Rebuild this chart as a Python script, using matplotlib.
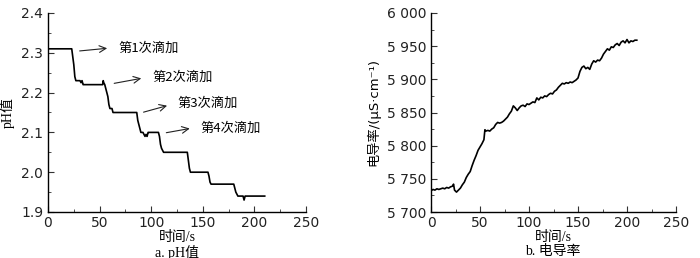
import matplotlib
matplotlib.use('Agg')
import matplotlib.pyplot as plt
from matplotlib.ticker import MultipleLocator, FuncFormatter

plt.rcParams['font.family'] = ['DejaVu Sans', 'Noto Sans CJK SC']
plt.rcParams['axes.linewidth'] = 1.0

# pH curve (time s, pH)
ph_t = [0, 23, 24, 25, 26, 27, 30, 31, 32, 33, 34, 35, 53, 53.5, 54, 55, 56, 57, 58,
        59, 60, 62, 63, 86, 87, 88, 89, 90, 92, 93, 94, 95, 96, 97, 98, 107, 108, 109,
        110, 111, 112, 135, 136, 137, 138, 155, 156, 157, 158, 180, 181, 182, 184,
        189, 190, 191, 210]
ph_v = [2.31, 2.31, 2.29, 2.27, 2.24, 2.23, 2.23, 2.23, 2.225, 2.23, 2.22, 2.22, 2.22,
        2.23, 2.225, 2.22, 2.21, 2.20, 2.19, 2.17, 2.16, 2.16, 2.15, 2.15, 2.13, 2.12,
        2.11, 2.10, 2.10, 2.095, 2.09, 2.095, 2.09, 2.10, 2.10, 2.10, 2.09, 2.07, 2.06,
        2.055, 2.05, 2.05, 2.03, 2.01, 2.00, 2.00, 1.99, 1.975, 1.97, 1.97, 1.96, 1.95,
        1.94, 1.94, 1.93, 1.94, 1.94]

# annotations: label, arrow start (t, pH), arrow end (t, pH)
ann_labels = ['第1次滴加', '第2次滴加', '第3次滴加', '第4次滴加']
ann_start = [(28, 2.304), (61.5, 2.222), (90, 2.149), (112, 2.098)]
ann_end = [(60, 2.312), (93, 2.237), (118, 2.169), (140, 2.111)]
ann_text = [(68, 2.312), (101.5, 2.239), (125, 2.174), (147.5, 2.111)]

# conductivity curve (time s, uS/cm)
ec_t = [0, 2, 4, 6, 8, 10, 12, 14, 16, 18, 20, 22, 23, 24, 26, 28, 30, 32, 34, 36, 38,
        40, 42, 44, 46, 48, 50, 52, 54, 55, 56, 58, 60, 62, 64, 66, 68, 70, 72, 74, 76,
        78, 80, 82, 84, 86, 88, 90, 92, 94, 96, 98, 100, 102, 104, 106, 108, 110, 112,
        114, 116, 118, 120, 122, 124, 126, 128, 130, 132, 134, 136, 138, 140, 142, 144,
        146, 148, 150, 152, 154, 156, 158, 160, 162, 164, 166, 168, 170, 172, 174, 176,
        178, 180, 182, 184, 186, 188, 190, 192, 194, 196, 198, 200, 202, 204, 206, 208,
        210]
ec_v = [5732, 5734, 5733, 5735, 5734, 5735, 5736, 5735, 5737, 5736, 5738, 5739, 5742,
        5733, 5730, 5733, 5736, 5741, 5745, 5752, 5757, 5761, 5770, 5778, 5785, 5793,
        5798, 5803, 5809, 5824, 5822, 5823, 5822, 5825, 5827, 5832, 5835, 5834, 5835,
        5837, 5840, 5843, 5848, 5852, 5860, 5857, 5853, 5857, 5860, 5861, 5859, 5863,
        5862, 5864, 5866, 5865, 5872, 5869, 5873, 5872, 5875, 5874, 5877, 5879, 5878,
        5882, 5884, 5888, 5891, 5894, 5893, 5895, 5894, 5896, 5895, 5897, 5899, 5902,
        5912, 5918, 5920, 5916, 5918, 5915, 5923, 5928, 5926, 5929, 5928, 5932, 5938,
        5942, 5946, 5944, 5949, 5948, 5952, 5954, 5951, 5956, 5958, 5955, 5960, 5955,
        5958, 5957, 5959, 5959]

fig = plt.figure(figsize=(7, 2.58), dpi=100)
ax1 = fig.add_axes([48 / 700, 1 - 212 / 258, 258 / 700, 199 / 258])
ax2 = fig.add_axes([431 / 700, 1 - 212 / 258, 245 / 700, 199 / 258])

serif_cjk = ['Liberation Serif', 'Noto Sans CJK SC']

for ax in (ax1, ax2):
    ax.spines['top'].set_visible(False)
    ax.spines['right'].set_visible(False)
    ax.set_xlim(0, 250)
    ax.xaxis.set_major_locator(MultipleLocator(50))
    ax.xaxis.set_minor_locator(MultipleLocator(25))
    ax.tick_params(which='both', direction='in', labelsize=10, color='#333333',
                   labelcolor='#222222')
    ax.tick_params(which='major', length=4)
    ax.tick_params(which='minor', length=2.5)
    ax.tick_params(axis='x', pad=3)

ax1.plot(ph_t, ph_v, color='black', lw=1.2)
ax1.set_ylim(1.9, 2.4)
ax1.yaxis.set_major_locator(MultipleLocator(0.1))
ax1.yaxis.set_minor_locator(MultipleLocator(0.05))
ax1.yaxis.set_major_formatter(FuncFormatter(lambda v, p: f'{v:.1f}'))
ax1.set_ylabel('pH值', family=serif_cjk, fontsize=10)
ax1.yaxis.set_label_coords(-0.13, 0.5)
for lab, s, e, t in zip(ann_labels, ann_start, ann_end, ann_text):
    ax1.annotate('', xy=e, xytext=s,
                 arrowprops=dict(arrowstyle='->', lw=0.8, color='#222222',
                                 mutation_scale=12))
    ax1.text(t[0], t[1], lab, fontsize=9.5, va='center', ha='left',
             family=['Noto Sans CJK SC'])

ax2.plot(ec_t, ec_v, color='black', lw=1.2)
ax2.set_ylim(5700, 6000)
ax2.yaxis.set_major_locator(MultipleLocator(50))
ax2.yaxis.set_minor_locator(MultipleLocator(25))
ax2.yaxis.set_major_formatter(FuncFormatter(lambda v, p: f'{int(v):,}'.replace(',', ' ')))
ax2.set_ylabel('电导率/(μS·cm⁻¹)', family=['DejaVu Sans', 'Noto Sans CJK SC'],
               fontsize=9.5)
ax2.yaxis.set_label_coords(-0.205, 0.5)

fig.text(177 / 700, 1 - 237 / 258, '时间/s', family=serif_cjk, fontsize=10,
         ha='center', va='center')
fig.text(177 / 700, 1 - 252 / 258, 'a. pH值', family=serif_cjk, fontsize=10,
         ha='center', va='center')
fig.text(553 / 700, 1 - 237 / 258, '时间/s', family=serif_cjk, fontsize=10,
         ha='center', va='center')
fig.text(553 / 700, 1 - 252 / 258, 'b. 电导率', family=serif_cjk, fontsize=10,
         ha='center', va='center')

fig.savefig('out.png', dpi=100)
